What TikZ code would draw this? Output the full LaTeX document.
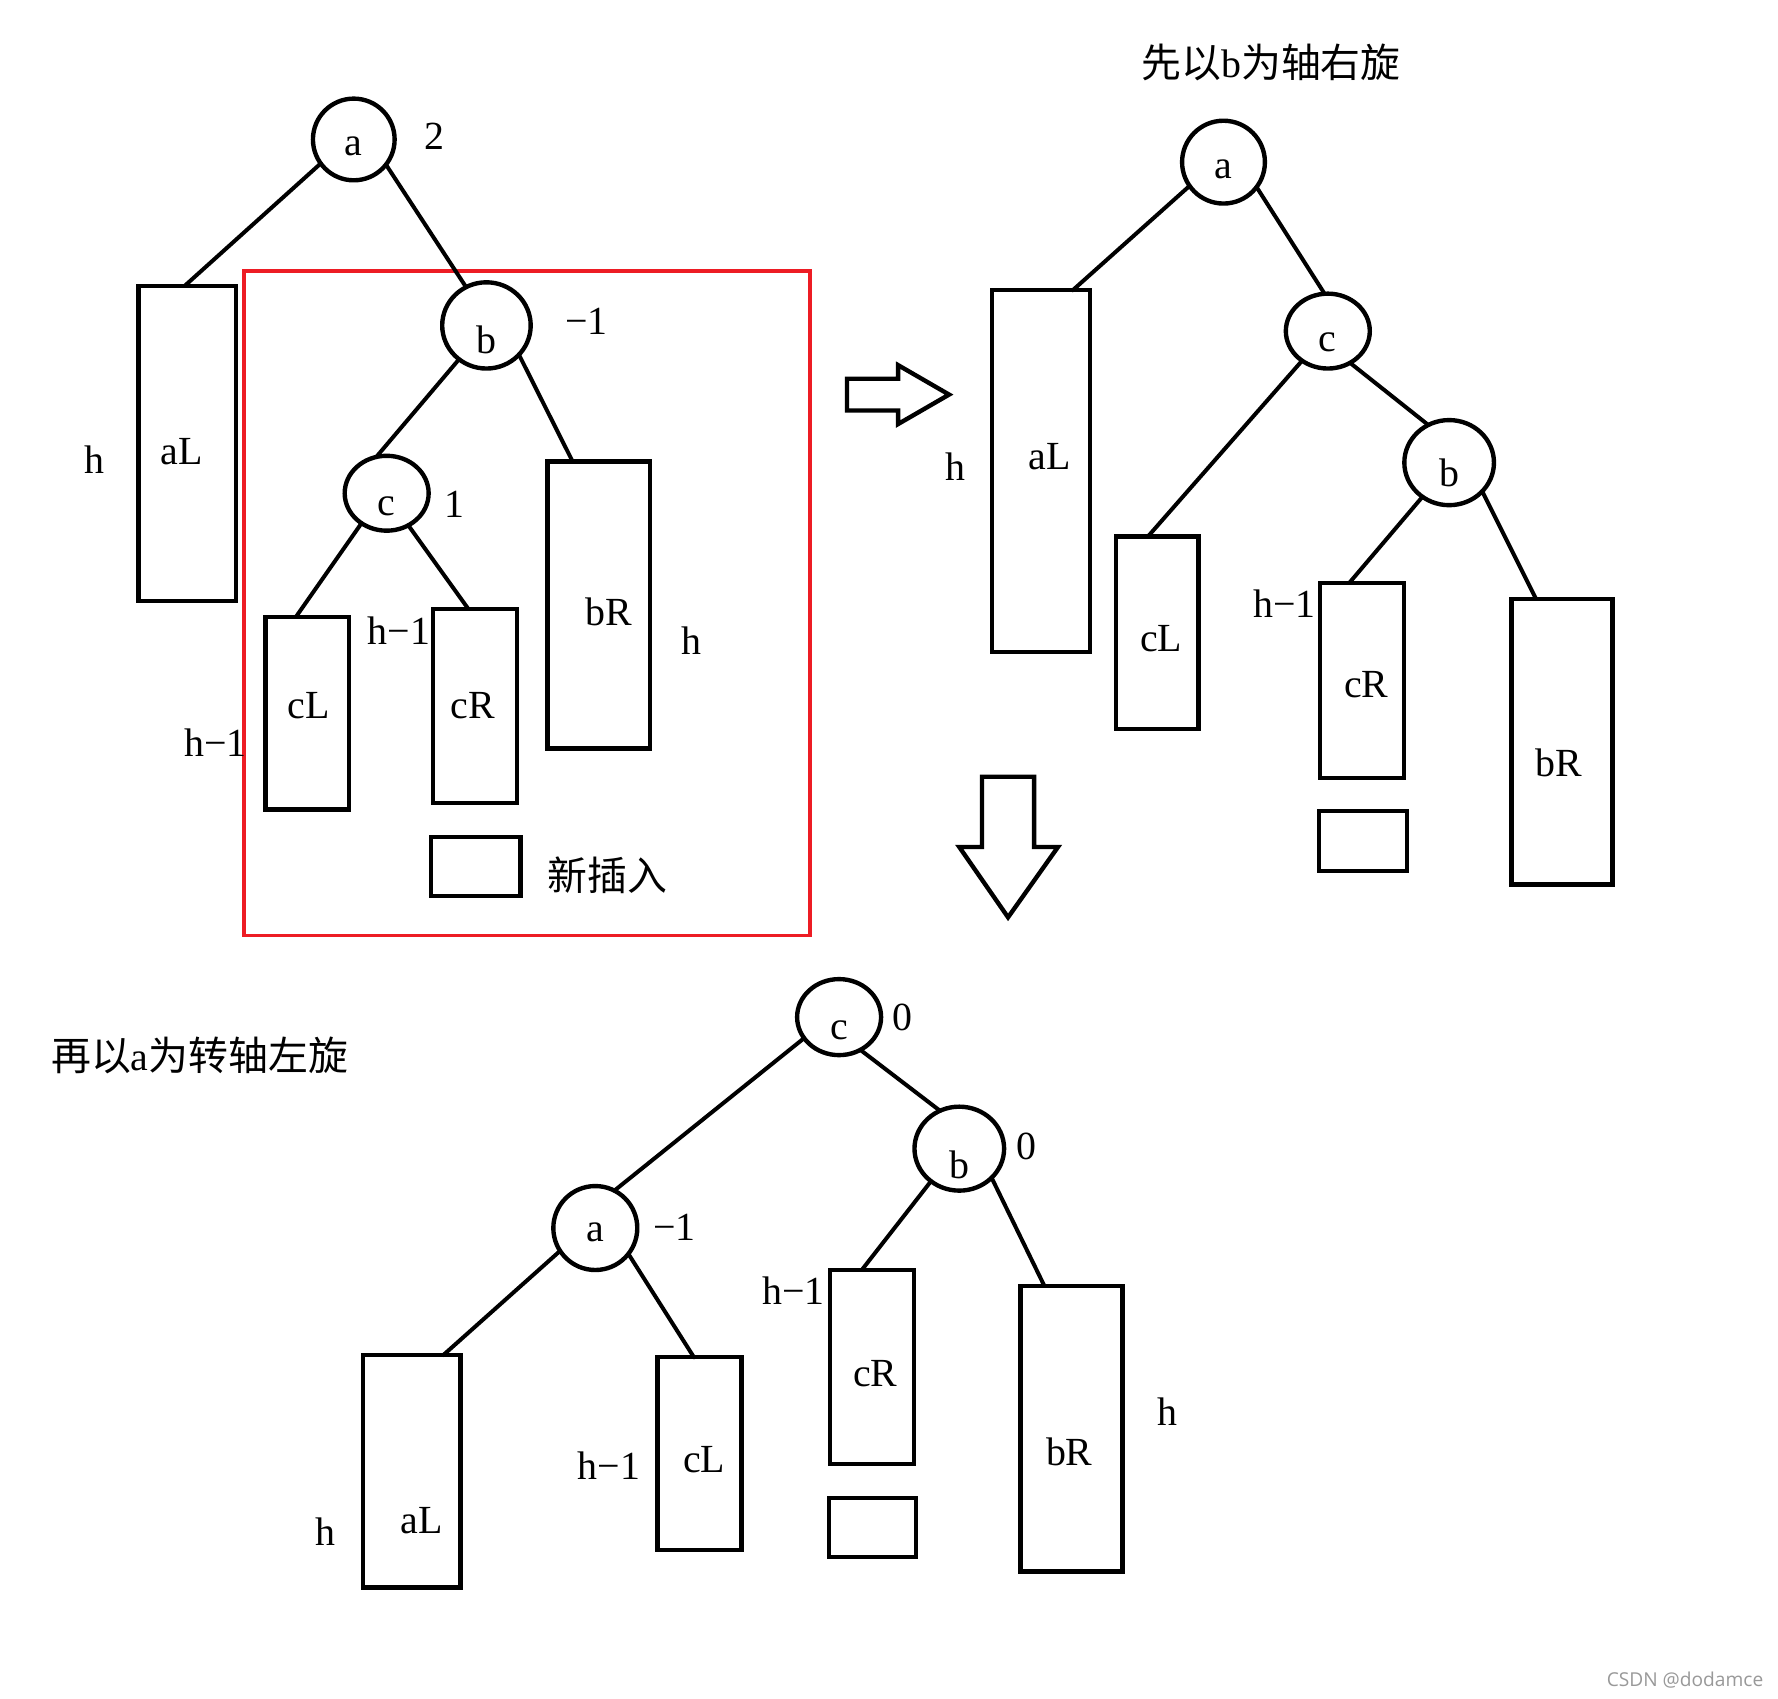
\documentclass[tikz,border=0pt]{standalone}
\usepackage{fontspec}
\setmainfont{Liberation Serif}
\newfontfamily\cjk{Noto Sans CJK SC}
\newfontfamily\wmfont{Open Sans}
\usetikzlibrary{shapes.geometric,calc}
\definecolor{paintred}{RGB}{237,28,36}
\newcommand\lowr[2]{\raisebox{-#1}[0pt][0pt]{#2}}
\newcommand\treebox[5]{\node[tbox, minimum width={(#4-#2)*0.01cm}, minimum height={(#5-#3)*0.01cm}] (#1) at ({(#2+#4)/2},{(#3+#5)/2}) {};}
\tikzset{
  tbox/.style={draw, rectangle, line width=1.1pt, inner sep=0pt, outer sep=0pt},
  vert/.style={draw, ellipse, line width=1.1pt, inner sep=0pt, outer sep=0pt},
  edge/.style={line width=1pt, line cap=round},
  lbl/.style={inner sep=0pt, anchor=center},
  bigarrow/.style={draw, fill=white, line width=1.1pt, line join=miter},
  redframe/.style={draw=paintred, line width=0.95pt}
}
\begin{document}
\begin{tikzpicture}[x=0.01cm, y=-0.01cm, font=\fontsize{10}{12}\selectfont]
\fill[white] (0,0) rectangle (1568,1498);
\useasboundingbox (0,0) rectangle (1568,1498);

% ---------- top-left tree ----------
\draw[redframe] (215,239) rectangle (714,825);
\node[vert, minimum width=0.72cm, minimum height=0.72cm] (tla) at (312,123) {\lowr{4pt}{a}};
\node[vert, minimum width=0.78cm, minimum height=0.76cm] (tlb) at (429,287) {\lowr{7pt}{b}};
\node[vert, minimum width=0.74cm, minimum height=0.66cm] (tlc) at (341,435) {\lowr{5.5pt}{c}};
\treebox{tlaL}{122}{252}{208}{530}
\treebox{tlbR}{483}{407}{573}{660}
\treebox{tlcL}{234}{544}{308}{714}
\treebox{tlcR}{382}{537}{456}{708}
\treebox{tlnew}{380}{738}{459}{790}
\draw[edge] (tla.216) -- ($(tlaL.north)+(-2,0)$);
\draw[edge] (tla.-38) -- (tlb.118);
\draw[edge] (tlb.231) -- (tlc.106);
\draw[edge] (tlb.-42) -- ($(tlbR.north)+(-23,0)$);
\draw[edge] (tlc.230) -- ($(tlcL.north)+(-10,0)$);
\draw[edge] (tlc.-56) -- ($(tlcR.north)+(-6,0)$);
\node[lbl] (tl2) at (383,120) {2};
\node[lbl] (tlm1) at (517,283) {−1};
\node[lbl] (tl1) at (401,445) {1};
\node[lbl] (tlh1) at (83,405) {h};
\node[lbl] (tlaLt) at (160,398) {aL};
\node[lbl] (tlbRt) at (537,540) {bR};
\node[lbl] (tlh2) at (610,565) {h};
\node[lbl] (tlcLt) at (272,622) {cL};
\node[lbl] (tlcRt) at (417,622) {cR};
\node[lbl] (tlhm1) at (352,556) {h−1};
\node[lbl] (tlhm2) at (190,655) {h−1};
\node[lbl] (tlnewt) at (536,772) {\cjk 新插入};

% ---------- arrows ----------
\draw[bigarrow] (747,334) -- (792,334) -- (792,322) -- (837,348) -- (792,374) -- (792,362) -- (747,362) -- cycle;
\draw[bigarrow] (866,685) -- (912,685) -- (912,747) -- (933,747) -- (889,809) -- (846,747) -- (866,747) -- cycle;

% ---------- top-right tree ----------
\node[lbl] (trtitle) at (1121,55) {{\cjk 先以}b{\cjk 为轴右旋}};
\node[vert, minimum width=0.73cm, minimum height=0.73cm] (tra) at (1079,143) {\lowr{4pt}{a}};
\node[vert, minimum width=0.74cm, minimum height=0.66cm] (trc) at (1171,292) {\lowr{5pt}{c}};
\node[vert, minimum width=0.79cm, minimum height=0.75cm] (trb) at (1278,408) {\lowr{6pt}{b}};
\treebox{traL}{875}{256}{961}{575}
\treebox{trcL}{984}{473}{1057}{643}
\treebox{trcR}{1164}{514}{1238}{686}
\treebox{trbR}{1333}{528}{1422}{780}
\treebox{trnew}{1163}{715}{1241}{768}
\draw[edge] (tra.215) -- ($(traL.north)+(28,0)$);
\draw[edge] (tra.-37) -- (trc.95);
\draw[edge] (trc.229) -- ($(trcL.north)+(-8,0)$);
\draw[edge] (trc.-55) -- (trb.119);
\draw[edge] (trb.232) -- ($(trcR.north)+(-11,0)$);
\draw[edge] (trb.-41) -- ($(trbR.north)+(-23,0)$);
\node[lbl] (trh) at (843,412) {h};
\node[lbl] (traLt) at (926,403) {aL};
\node[lbl] (trcLt) at (1024,563) {cL};
\node[lbl] (trhm1) at (1133,532) {h−1};
\node[lbl] (trcRt) at (1205,604) {cR};
\node[lbl] (trbRt) at (1375,673) {bR};

% ---------- bottom tree ----------
\node[lbl] (btitle) at (176,931) {{\cjk 再以}a{\cjk 为转轴左旋}};
\node[vert, minimum width=0.74cm, minimum height=0.67cm] (bc) at (740,897) {\lowr{5.5pt}{c}};
\node[vert, minimum width=0.74cm, minimum height=0.74cm] (ba) at (525,1083) {\lowr{3.5pt}{a}};
\node[vert, minimum width=0.79cm, minimum height=0.74cm] (bb) at (846,1013) {\lowr{7.5pt}{b}};
\treebox{baL}{320}{1195}{406}{1400}
\treebox{bcL}{580}{1197}{654}{1367}
\treebox{bcR}{732}{1120}{806}{1291}
\treebox{bbR}{900}{1134}{990}{1386}
\treebox{bnew}{731}{1321}{808}{1373}
\draw[edge] (bc.211) -- (ba.63);
\draw[edge] (bc.-57) -- (bb.117);
\draw[edge] (ba.213) -- ($(baL.north)+(28,0)$);
\draw[edge] (ba.-38) -- ($(bcL.north)+(-5,0)$);
\draw[edge] (bb.229) -- ($(bcR.north)+(-9,0)$);
\draw[edge] (bb.-42) -- ($(bbR.north)+(-24,0)$);
\node[lbl] (bc0) at (796,897) {0};
\node[lbl] (bb0) at (905,1011) {0};
\node[lbl] (bam1) at (595,1082) {−1};
\node[lbl] (bh1) at (287,1351) {h};
\node[lbl] (baLt) at (372,1341) {aL};
\node[lbl] (bhm1) at (537,1293) {h−1};
\node[lbl] (bcLt) at (621,1287) {cL};
\node[lbl] (bhm2) at (700,1138) {h−1};
\node[lbl] (bcRt) at (772,1211) {cR};
\node[lbl] (bbRt) at (943,1280) {bR};
\node[lbl] (bh2) at (1030,1245) {h};

% ---------- watermark ----------
\node[lbl, font=\wmfont\fontsize{4.8}{6}\selectfont, text=black!40] (wm) at (1486,1482) {CSDN @dodamce};
\end{tikzpicture}
\end{document}
